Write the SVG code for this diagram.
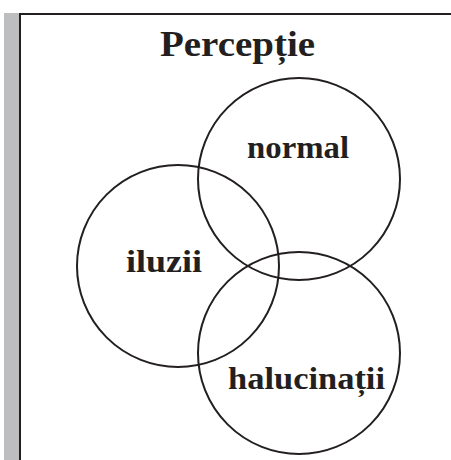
<svg xmlns="http://www.w3.org/2000/svg" width="451" height="460" viewBox="0 0 451 460">
<style>
.c{fill:none;stroke:#231f20;stroke-width:2}
.t{font-family:"Liberation Serif","DejaVu Serif",serif;font-weight:bold;fill:#231f20}
</style>
<rect x="0" y="0" width="451" height="460" fill="#fff"/>
<g id="frame">
<rect x="4" y="13" width="15" height="447" fill="#bcbec0"/>
<line x1="20" y1="13" x2="20" y2="460" stroke="#231f20" stroke-width="2"/>
<line x1="19" y1="14" x2="451" y2="14" stroke="#231f20" stroke-width="2"/>
</g>
<g id="title"><text class="t" x="160" y="56" font-size="35" textLength="155" lengthAdjust="spacingAndGlyphs">Percepție</text></g>
<g id="normal"><circle class="c" cx="299" cy="179" r="101"/><text class="t" x="247" y="158" font-size="32" textLength="102" lengthAdjust="spacingAndGlyphs">normal</text></g>
<g id="iluzii"><circle class="c" cx="178" cy="266" r="101"/><text class="t" x="126" y="272" font-size="32" textLength="76" lengthAdjust="spacingAndGlyphs">iluzii</text></g>
<g id="halucinatii"><circle class="c" cx="299" cy="353" r="101"/><text class="t" x="228" y="389" font-size="32" textLength="157" lengthAdjust="spacingAndGlyphs">halucinații</text></g>
<g id="connectors"/>
</svg>
